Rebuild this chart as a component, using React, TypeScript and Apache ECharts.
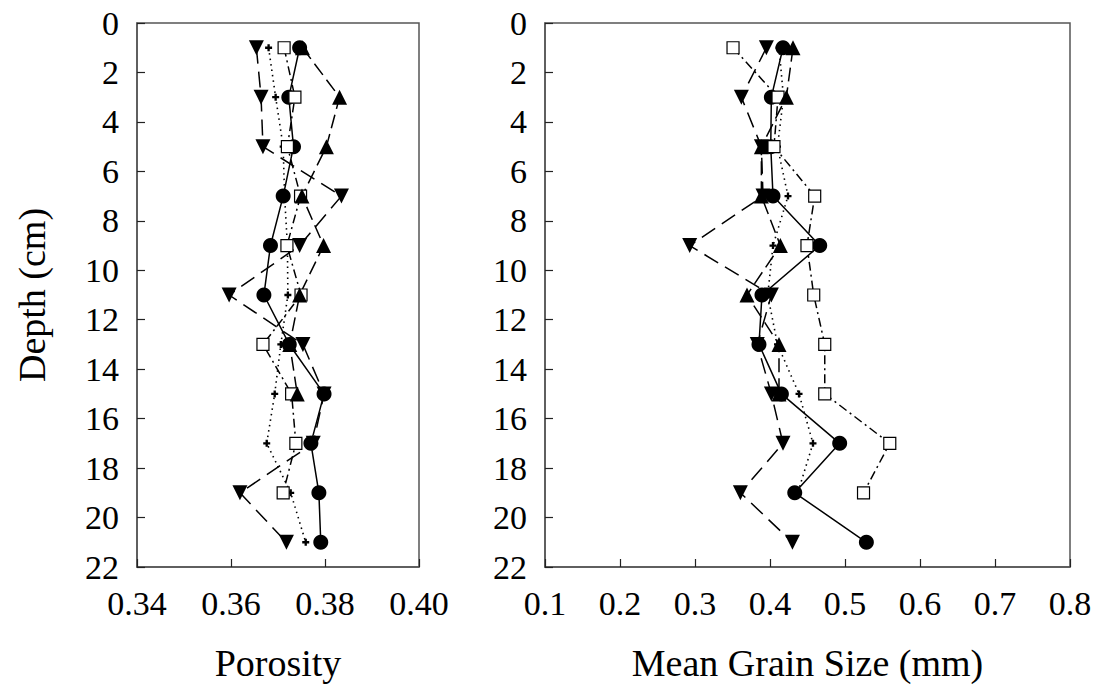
import React, { useEffect, useRef } from "react";
import * as echarts from "echarts";

const depths = [1, 3, 5, 7, 9, 11, 13, 15, 17, 19, 21];
const depthTicks = [0, 2, 4, 6, 8, 10, 12, 14, 16, 18, 20, 22];

// Porosity (left panel)
const porCircle = [0.3746, 0.3723, 0.3733, 0.3711, 0.3684, 0.367, 0.3724, 0.3798, 0.377, 0.3787, 0.3791];
const porUpTri = [0.3752, 0.3831, 0.3803, 0.3751, 0.3797, 0.3746, 0.3725, 0.3741];
const porDownTri = [0.3654, 0.3664, 0.3668, 0.3835, 0.3746, 0.3596, 0.3753, 0.3798, 0.3775, 0.3619, 0.3718];
const porSquare = [0.3713, 0.3736, 0.372, 0.3748, 0.3719, 0.3749, 0.3668, 0.3729, 0.3738, 0.3711];
const porPlus = [0.368, 0.3695, 0.3711, 0.3714, 0.372, 0.3721, 0.3706, 0.3693, 0.3676, 0.3727, 0.3759];

// Mean grain size (right panel)
const gsCircle = [0.4173, 0.4018, 0.401, 0.404, 0.4663, 0.3893, 0.3853, 0.4152, 0.4929, 0.433, 0.5285];
const gsUpTri = [0.4307, 0.4218, 0.3885, 0.3885, 0.4138, 0.3693, 0.412, 0.412];
const gsDownTri = [0.3952, 0.3618, 0.3885, 0.3907, 0.2929, 0.4018, 0.383, 0.4018, 0.4173, 0.3605, 0.4299];
const gsSquare = [0.3507, 0.4107, 0.4053, 0.4596, 0.4493, 0.4583, 0.473, 0.473, 0.5597, 0.5247];
const gsPlus = [0.412, 0.418, 0.41, 0.424, 0.404, 0.397, 0.41, 0.4387, 0.4573, 0.437];

const porTicks = ["0.34", "0.36", "0.38", "0.40"];
const gsTicks = ["0.1", "0.2", "0.3", "0.4", "0.5", "0.6", "0.7", "0.8"];

const FONT = "Liberation Serif";
const PLUS = "path://M2,0H4V2H6V4H4V6H2V4H0V2H2Z";

function pairs(vals: number[]) {
  return vals.map((v, i) => [v, depths[i]]);
}

function seriesFor(idx: number, c: number[], up: number[], down: number[], sq: number[], pl: number[]) {
  const base = { type: "line", xAxisIndex: idx, yAxisIndex: idx, showSymbol: true, z: 2 };
  return [
    {
      ...base,
      name: "plus" + idx,
      data: pairs(pl),
      symbol: PLUS,
      symbolSize: 7,
      itemStyle: { color: "#000" },
      lineStyle: { color: "#000", width: 1.6, type: [1.5, 4] },
    },
    {
      ...base,
      name: "circle" + idx,
      data: pairs(c),
      symbol: "circle",
      symbolSize: 15,
      itemStyle: { color: "#000" },
      lineStyle: { color: "#000", width: 1.5, type: "solid" },
    },
    {
      ...base,
      name: "square" + idx,
      data: pairs(sq),
      symbol: "rect",
      symbolSize: 12,
      itemStyle: { color: "#fff", borderColor: "#000", borderWidth: 1.2 },
      lineStyle: { color: "#000", width: 1.5, type: [9, 4, 2, 4] },
    },
    {
      ...base,
      name: "up" + idx,
      data: pairs(up),
      symbol: "triangle",
      symbolSize: 15,
      itemStyle: { color: "#000" },
      lineStyle: { color: "#000", width: 1.5, type: [14, 6] },
    },
    {
      ...base,
      name: "down" + idx,
      data: pairs(down),
      symbol: "triangle",
      symbolRotate: 180,
      symbolSize: 15,
      itemStyle: { color: "#000" },
      lineStyle: { color: "#000", width: 1.5, type: [16, 8] },
    },
  ];
}

function xAxisFor(idx: number, min: number, max: number, interval: number, labels: string[], name: string) {
  return {
    type: "value",
    gridIndex: idx,
    position: "bottom",
    min,
    max,
    interval,
    name,
    nameLocation: "middle",
    nameGap: 77,
    nameTextStyle: { fontFamily: FONT, fontSize: 38, color: "#000" },
    axisLine: { show: true, onZero: false, lineStyle: { color: "#555", width: 1.5 } },
    axisTick: { show: true, inside: true, length: 8, lineStyle: { color: "#222", width: 1.2 } },
    splitLine: { show: false },
    axisLabel: {
      fontFamily: FONT,
      fontSize: 34,
      color: "#000",
      margin: 19,
      formatter: (v: number) => {
        const i = Math.round((v - min) / interval);
        return labels[i] ?? "";
      },
    },
  };
}

function yAxisFor(idx: number, name: string) {
  return {
    type: "value",
    gridIndex: idx,
    position: "left",
    inverse: true,
    min: depthTicks[0],
    max: depthTicks[depthTicks.length - 1],
    interval: 2,
    name,
    nameLocation: "middle",
    nameRotate: 90,
    nameGap: 86,
    nameTextStyle: { fontFamily: FONT, fontSize: 38, color: "#000" },
    axisLine: { show: true, onZero: false, lineStyle: { color: "#555", width: 1.5 } },
    axisTick: { show: true, inside: true, length: 8, lineStyle: { color: "#222", width: 1.2 } },
    splitLine: { show: false },
    axisLabel: { fontFamily: FONT, fontSize: 34, color: "#000", margin: 18 },
  };
}

export default function App() {
  const ref = useRef<HTMLDivElement>(null);
  useEffect(() => {
    if (!ref.current) return;
    const chart = echarts.init(ref.current, null, { renderer: "svg" });
    chart.setOption({
      animation: false,
      backgroundColor: "#fff",
      grid: [
        { left: 137, top: 23, width: 282, height: 544, show: true, borderColor: "#555", borderWidth: 1.5, backgroundColor: "transparent" },
        { left: 545, top: 23, width: 525, height: 544, show: true, borderColor: "#555", borderWidth: 1.5, backgroundColor: "transparent" },
      ],
      xAxis: [
        xAxisFor(0, 0.34, 0.4, 0.02, porTicks, "Porosity"),
        xAxisFor(1, 0.1, 0.8, 0.1, gsTicks, "Mean Grain Size (mm)"),
      ],
      yAxis: [yAxisFor(0, "Depth (cm)"), yAxisFor(1, "")],
      series: [
        ...seriesFor(0, porCircle, porUpTri, porDownTri, porSquare, porPlus),
        ...seriesFor(1, gsCircle, gsUpTri, gsDownTri, gsSquare, gsPlus),
      ],
    });
    return () => chart.dispose();
  }, []);
  return (
    <div
      ref={ref}
      style={{ position: "fixed", left: 0, top: 0, width: 1099, height: 690, background: "#fff" }}
    />
  );
}
